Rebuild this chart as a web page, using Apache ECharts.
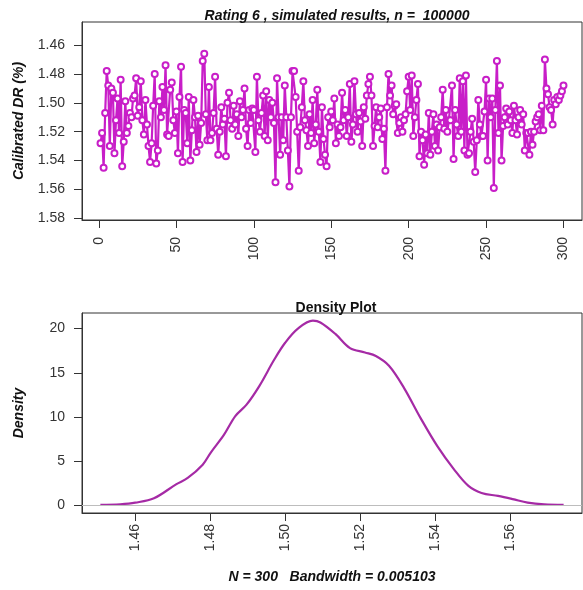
<!DOCTYPE html>
<html>
<head>
<meta charset="utf-8">
<script src="https://cdn.jsdelivr.net/npm/echarts@6/dist/echarts.min.js"></script>
<style>
html,body{margin:0;padding:0;background:#fff;}
#c{width:583px;height:590px;}
</style>
</head>
<body>
<div id="c"></div>
<script>
// ---- Data ----
var simValues = [
1.528,1.521,1.545,1.507,1.478,1.488,1.530,1.490,1.493,1.535,
1.512,1.497,1.521,1.484,1.544,1.527,1.499,1.521,1.516,1.507,
1.510,1.497,1.495,1.483,1.509,1.503,1.485,1.512,1.522,1.498,
1.515,1.530,1.541,1.528,1.502,1.480,1.542,1.533,1.499,1.510,
1.489,1.505,1.474,1.522,1.523,1.491,1.486,1.512,1.521,1.506,
1.535,1.496,1.475,1.541,1.505,1.507,1.528,1.496,1.540,1.519,
1.498,1.510,1.534,1.509,1.529,1.514,1.471,1.466,1.508,1.526,
1.489,1.526,1.521,1.507,1.482,1.518,1.536,1.520,1.503,1.515,
1.511,1.537,1.500,1.493,1.512,1.518,1.502,1.515,1.508,1.523,
1.499,1.510,1.505,1.490,1.518,1.530,1.505,1.514,1.504,1.505,
1.534,1.482,1.512,1.520,1.507,1.495,1.523,1.492,1.526,1.498,
1.510,1.500,1.514,1.555,1.483,1.510,1.536,1.510,1.526,1.488,
1.510,1.533,1.558,1.510,1.478,1.478,1.496,1.520,1.547,1.517,
1.503,1.485,1.512,1.519,1.530,1.508,1.521,1.498,1.528,1.515,
1.491,1.520,1.541,1.503,1.525,1.536,1.544,1.510,1.517,1.506,
1.512,1.497,1.528,1.515,1.523,1.517,1.493,1.512,1.505,1.523,
1.510,1.487,1.527,1.515,1.485,1.508,1.520,1.507,1.513,1.530,
1.503,1.511,1.495,1.487,1.482,1.495,1.530,1.516,1.503,1.517,
1.510,1.504,1.525,1.518,1.547,1.503,1.480,1.495,1.488,1.508,
1.502,1.501,1.521,1.514,1.510,1.520,1.512,1.508,1.492,1.482,
1.505,1.481,1.523,1.510,1.498,1.487,1.537,1.520,1.526,1.543,
1.522,1.535,1.507,1.536,1.520,1.508,1.530,1.515,1.533,1.517,
1.510,1.491,1.518,1.505,1.520,1.512,1.512,1.488,1.539,1.505,
1.515,1.523,1.483,1.520,1.485,1.533,1.481,1.536,1.535,1.520,
1.511,1.527,1.548,1.526,1.498,1.515,1.523,1.523,1.506,1.484,
1.540,1.497,1.510,1.497,1.559,1.505,1.471,1.521,1.488,1.540,
1.516,1.510,1.504,1.515,1.506,1.512,1.521,1.502,1.512,1.522,
1.510,1.505,1.515,1.508,1.533,1.521,1.521,1.536,1.520,1.529,
1.520,1.513,1.510,1.508,1.519,1.502,1.519,1.470,1.490,1.494,
1.503,1.505,1.515,1.498,1.501,1.496,1.498,1.495,1.492,1.488
];
var topXTicks = [0, 50, 100, 150, 200, 250, 300];
var topYTicks = [1.46, 1.48, 1.50, 1.52, 1.54, 1.56, 1.58];

var densX = [1.4507,1.4560,1.4600,1.4650,1.4710,1.4740,1.4780,1.4802,1.4837,1.4867,1.4897,1.4931,1.4971,1.5000,1.5034,1.5074,1.5094,1.5134,1.5173,1.5213,1.5242,1.5277,1.5317,1.5361,1.5406,1.5450,1.5489,1.5524,1.5568,1.5607,1.5647,1.5691,1.5743];
var densY = [0.05,0.12,0.3,0.8,2.4,3.1,4.6,6.0,8.0,10.1,11.4,13.5,16.5,18.4,20.0,20.9,20.7,19.4,17.8,17.3,16.9,15.8,13.3,9.9,6.7,4.1,2.2,1.4,1.06,0.7,0.3,0.1,0.05];
var densXTicks = [1.46, 1.48, 1.50, 1.52, 1.54, 1.56];
var densYTicks = [0, 5, 10, 15, 20];

var topTitle = 'Rating 6 , simulated results, n =  100000';
var topYName = 'Calibrated DR (%)';
var botTitle = 'Density Plot';
var botYName = 'Density';
var botXName = 'N = 300   Bandwidth = 0.005103';

// ---- Build ----
var FONT = "'Liberation Sans', Arial, sans-serif";
var simData = simValues.map(function (v, i) { return [i + 1, v]; });
var densData = densX.map(function (x, i) { return [x, densY[i]]; });

function axisBase(ticks, fmt, rotate, margin) {
  return {
    axisLine: { show: true, onZero: false, lineStyle: { color: '#333', width: 1 } },
    axisTick: { show: true, inside: false, length: 8, customValues: ticks, lineStyle: { color: '#333', width: 1 } },
    axisLabel: { show: true, customValues: ticks, formatter: fmt, rotate: rotate || 0, margin: margin,
      color: '#333', fontSize: 14, fontFamily: FONT },
    splitLine: { show: false }
  };
}
function merge(a, b) { for (var k in b) a[k] = b[k]; return a; }
var nameStyle = { fontSize: 14, fontWeight: 'bold', fontStyle: 'italic', fontFamily: FONT, color: '#111' };

var chart = echarts.init(document.getElementById('c'), null, { renderer: 'canvas' });
chart.setOption({
  backgroundColor: '#fff',
  animation: false,
  title: [
    { text: topTitle, left: 332, top: 4, textAlign: 'center',
      textStyle: { fontSize: 14, fontWeight: 'bold', fontStyle: 'italic', fontFamily: FONT, color: '#111' } },
    { text: botTitle, left: 331, top: 296, textAlign: 'center',
      textStyle: { fontSize: 14, fontWeight: 'bold', fontFamily: FONT, color: '#111' } }
  ],
  grid: [
    { left: 82, top: 22, width: 500, height: 198, show: true, borderColor: '#333', borderWidth: 1, backgroundColor: 'transparent' },
    { left: 82, top: 313, width: 500, height: 200, show: true, borderColor: '#333', borderWidth: 1, backgroundColor: 'transparent' }
  ],
  xAxis: [
    merge(axisBase(topXTicks, function (v) { return String(Math.round(v)); }, 90, 17),
      { type: 'value', gridIndex: 0, min: -10.96, max: 311.96 }),
    merge(axisBase(densXTicks, function (v) { return v.toFixed(2); }, 90, 11),
      { type: 'value', gridIndex: 1, min: 1.4458, max: 1.5792,
        name: botXName, nameLocation: 'middle', nameGap: 57, nameTextStyle: nameStyle })
  ],
  yAxis: [
    merge(axisBase(topYTicks, function (v) { return v.toFixed(2); }, 0, 17),
      { type: 'value', gridIndex: 0, inverse: true, min: 1.444, max: 1.5812,
        name: topYName, nameLocation: 'middle', nameGap: 56, nameRotate: 90, nameTextStyle: nameStyle }),
    merge(axisBase(densYTicks, function (v) { return String(Math.round(v)); }, 0, 17),
      { type: 'value', gridIndex: 1, min: -0.87, max: 21.77,
        name: botYName, nameLocation: 'middle', nameGap: 56, nameRotate: 90, nameTextStyle: nameStyle })
  ],
  series: [
    { type: 'line', xAxisIndex: 0, yAxisIndex: 0, data: simData,
      symbol: 'emptyCircle', symbolSize: 6, showAllSymbol: true,
      lineStyle: { color: '#C81EC8', width: 2.2 },
      itemStyle: { color: '#C81EC8', borderColor: '#C81EC8', borderWidth: 2 } },
    { type: 'line', xAxisIndex: 1, yAxisIndex: 1, data: densData, smooth: 0.35,
      showSymbol: false, symbol: 'none',
      lineStyle: { color: '#A52AA5', width: 2.2 },
      markLine: { silent: true, symbol: 'none', label: { show: false },
        lineStyle: { color: '#bdbdbd', width: 1, type: 'solid' },
        data: [{ yAxis: 0 }] } }
  ]
});
</script>
</body>
</html>
